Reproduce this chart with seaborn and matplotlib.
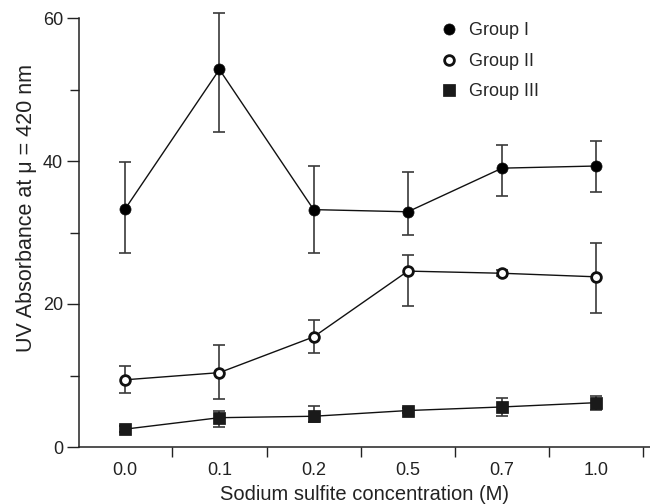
import matplotlib
matplotlib.use("Agg")
import matplotlib.pyplot as plt
from matplotlib.lines import Line2D
from matplotlib.ticker import FixedLocator
import numpy as np
import pandas as pd
import seaborn as sns

sns.set_style("ticks")
plt.rcParams['font.family'] = ['Liberation Sans', 'DejaVu Sans']

conc_labels = ['0.0', '0.1', '0.2', '0.5', '0.7', '1.0']
groups = ['Group I', 'Group II', 'Group III']

# means, upper and lower bar ends
g1_mean = [33.3, 52.8, 33.2, 32.9, 39.0, 39.3]
g1_hi = [39.9, 60.7, 39.3, 38.4, 42.2, 42.8]
g1_lo = [27.1, 44.0, 27.2, 29.7, 35.1, 35.6]

g2_mean = [9.4, 10.4, 15.4, 24.6, 24.3, 23.8]
g2_hi = [11.3, 14.3, 17.8, 26.9, 24.7, 28.6]
g2_lo = [7.5, 6.7, 13.2, 19.7, 23.9, 18.8]

g3_mean = [2.5, 4.1, 4.3, 5.1, 5.6, 6.2]
g3_hi = [2.9, 5.1, 5.7, 5.5, 6.8, 7.1]
g3_lo = [2.1, 2.8, 3.5, 4.7, 4.4, 5.2]

means = [g1_mean, g2_mean, g3_mean]
his = [g1_hi, g2_hi, g3_hi]
los = [g1_lo, g2_lo, g3_lo]

pos = np.arange(len(conc_labels))
df = pd.DataFrame({
    'pos': np.tile(pos, 3),
    'value': np.concatenate(means),
    'group': np.repeat(groups, len(conc_labels)),
})

fig = plt.figure(figsize=(6.5, 5.04), dpi=100)
ax = fig.add_axes([79 / 650, 57 / 504, 571 / 650, 429 / 504])

markers = {'Group I': 'o', 'Group II': 'o', 'Group III': 's'}
faces = {'Group I': 'black', 'Group II': 'white', 'Group III': '#1a1a1a'}
sizes = {'Group I': 8, 'Group II': 7, 'Group III': 8}
edges = {'Group I': 0.5, 'Group II': 2.0, 'Group III': 0.5}

for i, g in enumerate(groups):
    m = np.array(means[i])
    err = [m - np.array(los[i]), np.array(his[i]) - m]
    ax.errorbar(pos, m, yerr=err, fmt='none', ecolor='#3a3a3a', elinewidth=1.2,
                capsize=4, capthick=1.2, zorder=2, clip_on=False)
    sub = df[df['group'] == g]
    sns.lineplot(data=sub, x='pos', y='value', ax=ax, color='#111111', lw=1.0,
                 marker=markers[g], markersize=sizes[g], markerfacecolor=faces[g],
                 markeredgecolor='#111111', markeredgewidth=edges[g],
                 zorder=3, clip_on=False, legend=False)

ax.set_xlim(-0.49, 5.57)
ax.set_ylim(0, 60)
ax.set_xticks(pos)
ax.set_xticklabels(conc_labels)
ax.xaxis.set_minor_locator(FixedLocator(np.arange(-0.5, 6.0, 1.0)))
ax.set_yticks([0, 20, 40, 60])
ax.yaxis.set_minor_locator(FixedLocator([10, 30, 50]))

ax.tick_params(axis='x', which='major', length=0, pad=11, labelsize=13, colors='#222222')
ax.tick_params(axis='x', which='minor', length=7.5, width=1.0, color='#222222', direction='out')
ax.tick_params(axis='y', which='major', length=8.5, width=1.0, pad=3, labelsize=13,
               color='#222222', labelcolor='#222222')
ax.tick_params(axis='y', which='minor', length=6.5, width=1.0, color='#222222')

for s in ['top', 'right']:
    ax.spines[s].set_visible(False)
for s in ['left', 'bottom']:
    ax.spines[s].set_linewidth(1.1)
    ax.spines[s].set_color('#222222')

ax.set_xlabel('Sodium sulfite concentration (M)', fontsize=14.5, color='#222222', labelpad=4)
ax.set_ylabel('UV Absorbance at \u03bc = 420 nm', fontsize=15.5, color='#222222')
ax.yaxis.set_label_coords(-0.073, 0.557)

handles = [Line2D([], [], linestyle='none', marker=markers[g], markersize=sizes[g],
                  markerfacecolor=faces[g], markeredgecolor='#111111',
                  markeredgewidth=edges[g]) for g in groups]
ax.legend(handles, groups, loc='upper left', bbox_to_anchor=(0.632, 0.99),
          frameon=False, fontsize=13, handlelength=1.0, handletextpad=0.6,
          labelspacing=0.75, borderpad=0, borderaxespad=0)

fig.savefig('out.png', dpi=100)
